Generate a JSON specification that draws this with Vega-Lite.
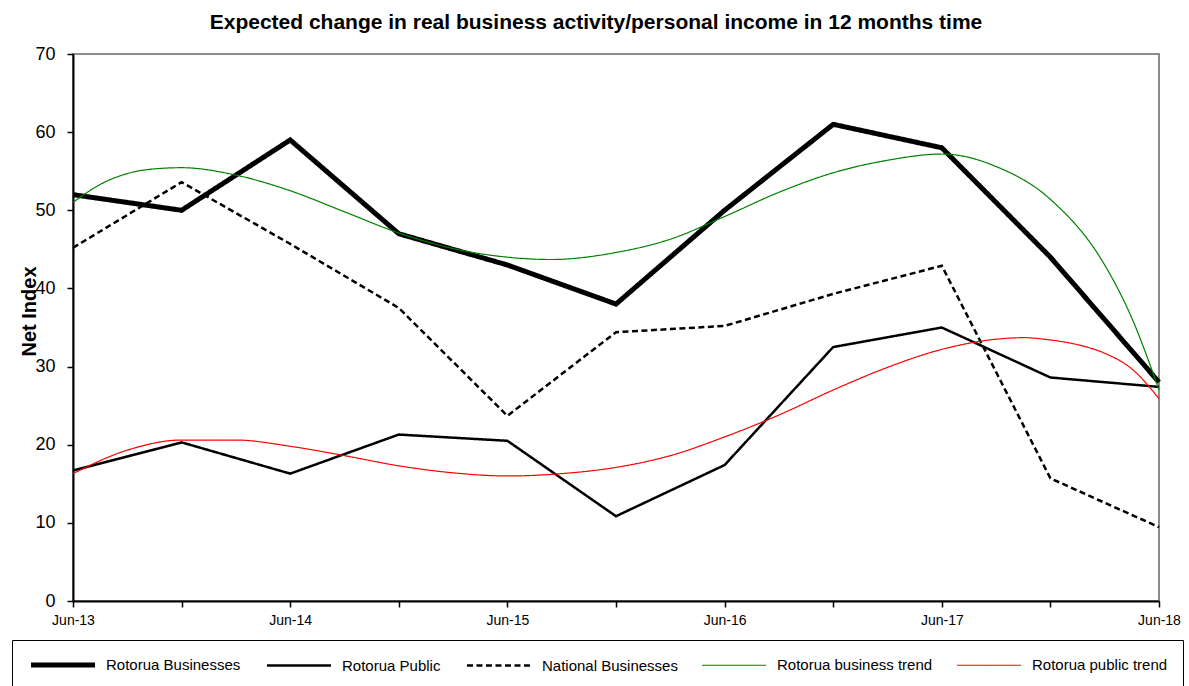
{
  "$schema": "https://vega.github.io/schema/vega-lite/v6.json",
  "width": 1086,
  "height": 547,
  "autosize": {"type": "none"},
  "padding": {"left": 73, "top": 54, "right": 30, "bottom": 85},
  "background": "white",
  "config": {
    "font": "Liberation Sans",
    "view": {"stroke": "#8c8c8c", "strokeWidth": 2},
    "legend": {
      "orient": "none",
      "legendX": -61,
      "legendY": 586,
      "direction": "horizontal",
      "columns": 5,
      "symbolType": "M-4.267,0H4.267",
      "symbolSize": 225,
      "symbolOffset": 26,
      "labelFont": "Liberation Sans",
      "labelFontSize": 15,
      "labelColor": "black",
      "labelOffset": 33,
      "labelLimit": 300,
      "columnPadding": 20,
      "padding": 15,
      "strokeColor": "black",
      "fillColor": "white"
    }
  },
  "title": {
    "text": "Expected change in real business activity/personal income in 12 months time",
    "font": "Liberation Sans",
    "fontSize": 21,
    "fontWeight": "bold",
    "color": "black",
    "anchor": "middle",
    "dx": -20,
    "offset": 12
  },
  "datasets": {
    "observed": [
      {"t": 0, "series": "Rotorua Businesses", "value": 52},
      {"t": 1, "series": "Rotorua Businesses", "value": 50},
      {"t": 2, "series": "Rotorua Businesses", "value": 59},
      {"t": 3, "series": "Rotorua Businesses", "value": 47},
      {"t": 4, "series": "Rotorua Businesses", "value": 43},
      {"t": 5, "series": "Rotorua Businesses", "value": 38},
      {"t": 6, "series": "Rotorua Businesses", "value": 50},
      {"t": 7, "series": "Rotorua Businesses", "value": 61},
      {"t": 8, "series": "Rotorua Businesses", "value": 58},
      {"t": 9, "series": "Rotorua Businesses", "value": 44},
      {"t": 10, "series": "Rotorua Businesses", "value": 28},
      {"t": 0, "series": "Rotorua Public", "value": 16.7},
      {"t": 1, "series": "Rotorua Public", "value": 20.3},
      {"t": 2, "series": "Rotorua Public", "value": 16.3},
      {"t": 3, "series": "Rotorua Public", "value": 21.3},
      {"t": 4, "series": "Rotorua Public", "value": 20.5},
      {"t": 5, "series": "Rotorua Public", "value": 10.85},
      {"t": 6, "series": "Rotorua Public", "value": 17.4},
      {"t": 7, "series": "Rotorua Public", "value": 32.5},
      {"t": 8, "series": "Rotorua Public", "value": 35.0},
      {"t": 9, "series": "Rotorua Public", "value": 28.6},
      {"t": 10, "series": "Rotorua Public", "value": 27.4},
      {"t": 0, "series": "National Businesses", "value": 45.2},
      {"t": 1, "series": "National Businesses", "value": 53.6},
      {"t": 2, "series": "National Businesses", "value": 45.7},
      {"t": 3, "series": "National Businesses", "value": 37.5},
      {"t": 4, "series": "National Businesses", "value": 23.7},
      {"t": 5, "series": "National Businesses", "value": 34.4},
      {"t": 6, "series": "National Businesses", "value": 35.2},
      {"t": 7, "series": "National Businesses", "value": 39.3},
      {"t": 8, "series": "National Businesses", "value": 42.9},
      {"t": 9, "series": "National Businesses", "value": 15.7},
      {"t": 10, "series": "National Businesses", "value": 9.45}
    ],
    "trend": [
      {"t": 0, "series": "Rotorua business trend", "value": 51.0},
      {"t": 0.25, "series": "Rotorua business trend", "value": 53.3},
      {"t": 0.5, "series": "Rotorua business trend", "value": 54.7},
      {"t": 0.75, "series": "Rotorua business trend", "value": 55.3},
      {"t": 1.0, "series": "Rotorua business trend", "value": 55.45},
      {"t": 1.5, "series": "Rotorua business trend", "value": 54.5},
      {"t": 2.0, "series": "Rotorua business trend", "value": 52.5},
      {"t": 2.5, "series": "Rotorua business trend", "value": 49.8},
      {"t": 3.0, "series": "Rotorua business trend", "value": 47.1},
      {"t": 3.5, "series": "Rotorua business trend", "value": 45.1},
      {"t": 4.0, "series": "Rotorua business trend", "value": 44.0},
      {"t": 4.4, "series": "Rotorua business trend", "value": 43.7},
      {"t": 5.0, "series": "Rotorua business trend", "value": 44.6},
      {"t": 5.5, "series": "Rotorua business trend", "value": 46.3},
      {"t": 6.0, "series": "Rotorua business trend", "value": 49.2},
      {"t": 6.5, "series": "Rotorua business trend", "value": 52.3},
      {"t": 7.0, "series": "Rotorua business trend", "value": 54.8},
      {"t": 7.5, "series": "Rotorua business trend", "value": 56.4},
      {"t": 8.0, "series": "Rotorua business trend", "value": 57.2},
      {"t": 8.5, "series": "Rotorua business trend", "value": 55.6},
      {"t": 9.0, "series": "Rotorua business trend", "value": 51.4},
      {"t": 9.5, "series": "Rotorua business trend", "value": 43.0},
      {"t": 9.75, "series": "Rotorua business trend", "value": 36.2},
      {"t": 10, "series": "Rotorua business trend", "value": 27.0},
      {"t": 0, "series": "Rotorua public trend", "value": 16.3},
      {"t": 0.5, "series": "Rotorua public trend", "value": 19.3},
      {"t": 1.0, "series": "Rotorua public trend", "value": 20.6},
      {"t": 1.5, "series": "Rotorua public trend", "value": 20.6},
      {"t": 2.0, "series": "Rotorua public trend", "value": 19.8},
      {"t": 2.5, "series": "Rotorua public trend", "value": 18.6},
      {"t": 3.0, "series": "Rotorua public trend", "value": 17.3},
      {"t": 3.5, "series": "Rotorua public trend", "value": 16.4},
      {"t": 4.0, "series": "Rotorua public trend", "value": 16.0},
      {"t": 4.5, "series": "Rotorua public trend", "value": 16.3},
      {"t": 5.0, "series": "Rotorua public trend", "value": 17.1},
      {"t": 5.5, "series": "Rotorua public trend", "value": 18.6},
      {"t": 6.0, "series": "Rotorua public trend", "value": 21.0},
      {"t": 6.5, "series": "Rotorua public trend", "value": 23.8},
      {"t": 7.0, "series": "Rotorua public trend", "value": 27.0},
      {"t": 7.5, "series": "Rotorua public trend", "value": 29.9},
      {"t": 8.0, "series": "Rotorua public trend", "value": 32.2},
      {"t": 8.5, "series": "Rotorua public trend", "value": 33.5},
      {"t": 8.75, "series": "Rotorua public trend", "value": 33.7},
      {"t": 9.0, "series": "Rotorua public trend", "value": 33.4},
      {"t": 9.25, "series": "Rotorua public trend", "value": 32.8},
      {"t": 9.5, "series": "Rotorua public trend", "value": 31.7},
      {"t": 9.75, "series": "Rotorua public trend", "value": 29.7},
      {"t": 10, "series": "Rotorua public trend", "value": 25.9}
    ]
  },
  "encoding": {
    "x": {
      "field": "t",
      "type": "quantitative",
      "scale": {"domain": [0, 10], "nice": false, "zero": false},
      "axis": {
        "values": [0, 1, 2, 3, 4, 5, 6, 7, 8, 9, 10],
        "labelExpr": "datum.value % 2 == 0 ? 'Jun-' + (13 + datum.value / 2) : ''",
        "title": null,
        "grid": false,
        "labelFlush": false,
        "labelOverlap": false,
        "labelFont": "Liberation Sans",
        "labelFontSize": 14,
        "labelColor": "black",
        "labelPadding": 6,
        "tickSize": 6,
        "tickColor": "black",
        "tickWidth": 1.5,
        "domainColor": "black",
        "domainWidth": 2
      }
    },
    "y": {
      "field": "value",
      "type": "quantitative",
      "scale": {"domain": [0, 70], "nice": false},
      "axis": {
        "values": [0, 10, 20, 30, 40, 50, 60, 70],
        "title": "Net Index",
        "titleFont": "Liberation Sans",
        "titleFontSize": 20,
        "titleFontWeight": "bold",
        "titleColor": "black",
        "titleAngle": 270,
        "titleAlign": "center",
        "titleBaseline": "middle",
        "titleX": -44,
        "titleY": 257,
        "grid": false,
        "labelFont": "Liberation Sans",
        "labelFontSize": 18,
        "labelColor": "black",
        "labelPadding": 12,
        "tickSize": 6,
        "tickColor": "black",
        "tickWidth": 1.5,
        "domainColor": "black",
        "domainWidth": 2
      }
    },
    "color": {
      "field": "series",
      "type": "nominal",
      "title": null,
      "scale": {
        "domain": ["Rotorua Businesses", "Rotorua Public", "National Businesses", "Rotorua business trend", "Rotorua public trend"],
        "range": ["black", "black", "black", "#008000", "#ff0000"]
      }
    },
    "strokeDash": {
      "field": "series",
      "type": "nominal",
      "title": null,
      "scale": {
        "domain": ["Rotorua Businesses", "Rotorua Public", "National Businesses", "Rotorua business trend", "Rotorua public trend"],
        "range": [[1, 0], [1, 0], [6, 3.5], [1, 0], [1, 0]]
      }
    },
    "strokeWidth": {
      "field": "series",
      "type": "nominal",
      "title": null,
      "scale": {
        "type": "ordinal",
        "domain": ["Rotorua Businesses", "Rotorua Public", "National Businesses", "Rotorua business trend", "Rotorua public trend"],
        "range": [5, 2.5, 2.5, 1.2, 1.2]
      }
    }
  },
  "layer": [
    {
      "data": {"name": "observed"},
      "mark": {"type": "line", "interpolate": "linear", "strokeJoin": "miter"}
    },
    {
      "data": {"name": "trend"},
      "mark": {"type": "line", "interpolate": "monotone"}
    }
  ]
}
